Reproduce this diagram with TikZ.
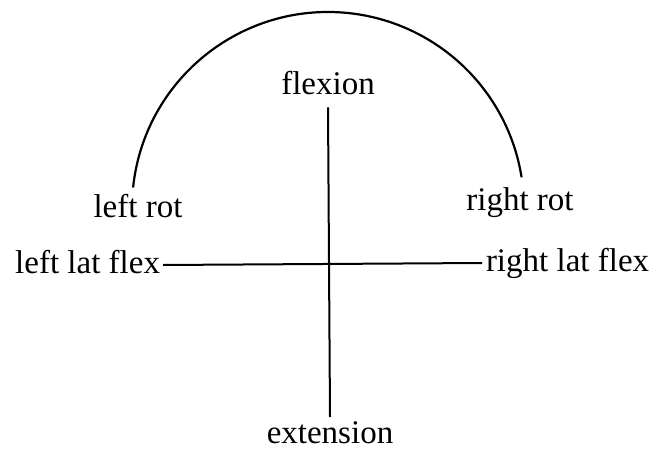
\documentclass[tikz,border=0pt]{standalone}
\usepackage{fontspec}
\setmainfont{Liberation Serif}
\usetikzlibrary{positioning}
\usetikzlibrary{calc}
\tikzset{
lbl/.style = {inner sep=0pt, outer sep=0pt, anchor=base,
              font=\fontsize{33}{38}\selectfont},
axis/.style = {line width=#1},
axis/.default = 2pt % thickness of the two axes
}

\begin{document}
\begin{tikzpicture}[x=1pt,y=1pt]
    \useasboundingbox (0,0) rectangle (656,451);
    \node[lbl] (flex) at (328,356) {flexion};
    \node[lbl] (ext) at (330,8) {extension};
    \node[lbl] (lrot) at (138,234) {left rot};
    \node[lbl] (rrot) at (520,241) {right rot};
    \node[lbl, anchor=base east] (llf) at (160,178) {left lat flex};
    \node[lbl, anchor=base west] (rlf) at (486,180) {right lat flex};
    \coordinate (arcL) at ($(328,243)+(174:196)$);
    \draw[axis] ([yshift=-12pt]flex.south) -- ([yshift=4pt]ext.north);
    \draw[axis] ([xshift=3pt,yshift=8pt]llf.base east) -- ([xshift=-4pt,yshift=8pt]rlf.base west);
    \draw[axis=2.2pt] (arcL) arc[start angle=174, end angle=9, radius=196];
\end{tikzpicture}
\end{document}
